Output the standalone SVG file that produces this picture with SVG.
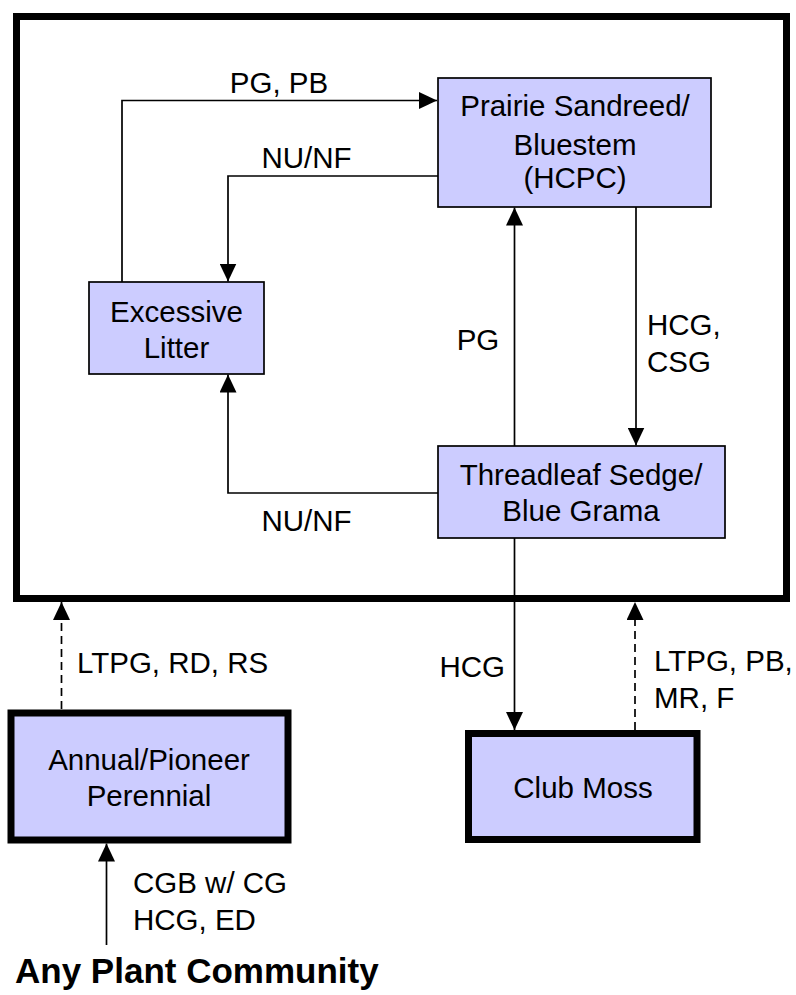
<svg xmlns="http://www.w3.org/2000/svg" width="796" height="995" viewBox="0 0 796 995">
<style>
  text { font-family: "Liberation Sans", Arial, sans-serif; font-size: 29.5px; fill: #000; }
  .c { text-anchor: middle; }
  .e { text-anchor: end; }
  .node { fill: #CCCCFF; stroke: #000; stroke-width: 1.7; }
  .thick { fill: #CCCCFF; stroke: #000; stroke-width: 7; }
  .ln { fill: none; stroke: #000; stroke-width: 1.7; marker-end: url(#arr); }
  .dash { stroke-dasharray: 8 5; }
  .bold { font-weight: bold; font-size: 35px; }
</style>
<defs>
  <marker id="arr" markerUnits="userSpaceOnUse" markerWidth="18" markerHeight="17" refX="18" refY="8.5" orient="auto">
    <path d="M0,0 L18,8.5 L0,17 z" fill="#000"/>
  </marker>
</defs>
<rect width="796" height="995" fill="#fff"/>
<g id="frame">
  <rect x="16.5" y="16.5" width="770" height="582" fill="none" stroke="#000" stroke-width="7"/>
</g>
<g id="connectors">
  <path class="ln" d="M122,282 V100.5 H437"/>
  <path class="ln" d="M438,176 H228 V281.5"/>
  <path class="ln" d="M438,493 H228 V374.5"/>
  <path class="ln" d="M514.5,446 V207.5"/>
  <path class="ln" d="M636,207 V445.5"/>
  <path class="ln" d="M514.5,538 V730"/>
  <path class="ln dash" d="M635,730 V602"/>
  <path class="ln dash" d="M61.5,709 V602"/>
  <path class="ln" d="M106.5,945 V843.5"/>
  <text class="c" x="279" y="93">PG, PB</text>
  <text class="c" x="306.5" y="168">NU/NF</text>
  <text class="c" x="306.5" y="531">NU/NF</text>
  <text class="c" x="478" y="350">PG</text>
  <text x="647" y="335">HCG,</text>
  <text x="647" y="372">CSG</text>
  <text class="e" x="505" y="677">HCG</text>
  <text x="654" y="671">LTPG, PB,</text>
  <text x="654" y="708">MR, F</text>
  <text x="77" y="673">LTPG, RD, RS</text>
  <text x="133" y="893">CGB w/ CG</text>
  <text x="133" y="930">HCG, ED</text>
</g>
<g id="prairie">
  <rect class="node" x="438" y="78" width="273" height="129"/>
  <text class="c" x="575" y="116">Prairie Sandreed/</text>
  <text class="c" x="575" y="155">Bluestem</text>
  <text class="c" x="575" y="188">(HCPC)</text>
</g>
<g id="litter">
  <rect class="node" x="89" y="282" width="175" height="92"/>
  <text class="c" x="176.5" y="322">Excessive</text>
  <text class="c" x="176.5" y="358">Litter</text>
</g>
<g id="threadleaf">
  <rect class="node" x="438" y="446" width="287" height="92"/>
  <text class="c" x="581" y="485">Threadleaf Sedge/</text>
  <text class="c" x="581" y="521">Blue Grama</text>
</g>
<g id="annual">
  <rect class="thick" x="11" y="713" width="277" height="127"/>
  <text class="c" x="149" y="770">Annual/Pioneer</text>
  <text class="c" x="149" y="806">Perennial</text>
</g>
<g id="clubmoss">
  <rect class="thick" x="468.5" y="733.5" width="228.5" height="106"/>
  <text class="c" x="583" y="798">Club Moss</text>
</g>
<g id="any">
  <text class="bold" x="15" y="983">Any Plant Community</text>
</g>
</svg>
